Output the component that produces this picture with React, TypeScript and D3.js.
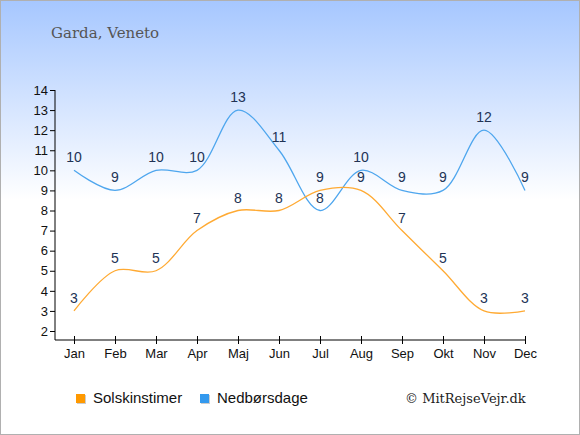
import { useEffect, useRef } from "react";
import * as d3 from "d3";

const months = ["Jan", "Feb", "Mar", "Apr", "Maj", "Jun", "Jul", "Aug", "Sep", "Okt", "Nov", "Dec"];
const sunHours = [3, 5, 5, 7, 8, 8, 9, 9, 7, 5, 3, 3];
const rainDays = [10, 9, 10, 10, 13, 11, 8, 10, 9, 9, 12, 9];
const yTicks = [2, 3, 4, 5, 6, 7, 8, 9, 10, 11, 12, 13, 14];

const W = 580;
const H = 435;

const App = () => {
  const ref = useRef(null);

  useEffect(() => {
    const svg = d3.select(ref.current).html("");

    const defs = svg.append("defs");
    const grad = defs
      .append("linearGradient")
      .attr("id", "bg")
      .attr("x1", 0)
      .attr("y1", 0)
      .attr("x2", 0)
      .attr("y2", 1);
    grad.append("stop").attr("offset", "0%").attr("stop-color", "#a6c7ff");
    grad.append("stop").attr("offset", "46%").attr("stop-color", "#ffffff");
    grad.append("stop").attr("offset", "100%").attr("stop-color", "#ffffff");

    svg
      .append("rect")
      .attr("x", 0.5)
      .attr("y", 0.5)
      .attr("width", W - 1)
      .attr("height", H - 1)
      .attr("fill", "url(#bg)")
      .attr("stroke", "#b0b0b0");

    // title
    svg
      .append("text")
      .attr("x", 51)
      .attr("y", 38)
      .attr("font-family", "'DejaVu Serif', 'Liberation Serif', serif")
      .attr("font-size", 15)
      .attr("fill", "#555")
      .text("Garda, Veneto");

    const x = d3.scalePoint().domain(months).range([74, 525]);
    const y = d3.scaleLinear().domain([2, 14]).range([331, 90]);

    // y axis
    const yAxis = svg
      .append("g")
      .attr("transform", "translate(55,0)")
      .call(d3.axisLeft(y).tickValues(yTicks).tickSize(5).tickSizeOuter(0).tickFormat(d3.format("d")));
    yAxis.select(".domain").remove();
    yAxis
      .append("line")
      .attr("x1", 0)
      .attr("x2", 0)
      .attr("y1", 90)
      .attr("y2", 340)
      .attr("stroke", "#000");
    yAxis
      .selectAll("text")
      .attr("font-family", "'Liberation Sans', Arial, sans-serif")
      .attr("font-size", 13)
      .attr("fill", "#111")
      .attr("x", -7);

    // x axis
    const xAxis = svg
      .append("g")
      .attr("transform", "translate(0,340)")
      .call(d3.axisBottom(x).tickSize(5).tickSizeOuter(0));
    xAxis.select(".domain").remove();
    xAxis
      .append("line")
      .attr("x1", 55)
      .attr("x2", 525)
      .attr("y1", 0)
      .attr("y2", 0)
      .attr("stroke", "#000");
    xAxis.selectAll(".tick line").attr("y1", -4).attr("y2", 4);
    xAxis
      .selectAll("text")
      .attr("font-family", "'Liberation Sans', Arial, sans-serif")
      .attr("font-size", 13)
      .attr("fill", "#111")
      .attr("y", 9);

    const line = d3
      .line<number>()
      .x((_, i) => x(months[i]))
      .y((d) => y(d))
      .curve(d3.curveCatmullRom.alpha(0.5));

    svg
      .append("path")
      .attr("d", line(rainDays))
      .attr("fill", "none")
      .attr("stroke", "#4ea6ee")
      .attr("stroke-width", 1.3);

    svg
      .append("path")
      .attr("d", line(sunHours))
      .attr("fill", "none")
      .attr("stroke", "#ffaa33")
      .attr("stroke-width", 1.3);

    const labels = (data) =>
      svg
        .append("g")
        .selectAll("text")
        .data(data)
        .enter()
        .append("text")
        .attr("x", (_, i) => x(months[i]))
        .attr("y", (d) => y(d) - 8)
        .attr("text-anchor", "middle")
        .attr("font-family", "'Liberation Sans', Arial, sans-serif")
        .attr("font-size", 14)
        .attr("fill", "#223355")
        .text((d) => d);
    labels(rainDays);
    labels(sunHours);

    // legend
    const legend = [
      { name: "Solskinstimer", color: "#ff9900", x: 76 },
      { name: "Nedbørsdage", color: "#3399ee", x: 200 },
    ];
    legend.forEach((l) => {
      svg
        .append("rect")
        .attr("x", l.x + 1)
        .attr("y", 395)
        .attr("width", 9)
        .attr("height", 9)
        .attr("fill", "#ccc");
      svg
        .append("rect")
        .attr("x", l.x)
        .attr("y", 394)
        .attr("width", 9)
        .attr("height", 9)
        .attr("fill", l.color);
      svg
        .append("text")
        .attr("x", l.x + 17)
        .attr("y", 403)
        .attr("font-family", "'Liberation Sans', Arial, sans-serif")
        .attr("font-size", 15)
        .attr("fill", "#111")
        .text(l.name);
    });

    svg
      .append("text")
      .attr("x", 405)
      .attr("y", 403)
      .attr("font-family", "'DejaVu Serif', 'Liberation Serif', serif")
      .attr("font-size", 13)
      .attr("fill", "#222")
      .text("© MitRejseVejr.dk");
  }, []);

  return (
    <div style={{ position: "absolute", left: 0, top: 0 }}>
      <svg ref={ref} width={W} height={H} style={{ display: "block" }}></svg>
    </div>
  );
};

export default App;
